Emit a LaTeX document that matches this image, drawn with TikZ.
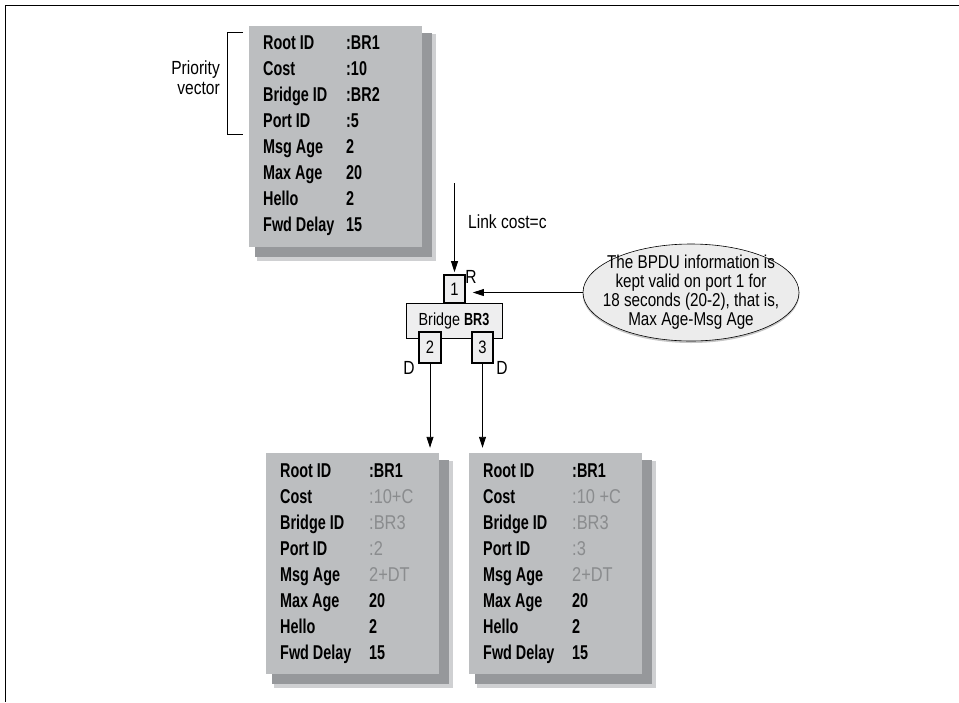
\documentclass[tikz,border=0pt]{standalone}
\usepackage{fontspec}
\setmainfont{Liberation Sans}[UprightFeatures={FakeStretch=0.82}, BoldFeatures={FakeStretch=0.72}]
\usetikzlibrary{arrows.meta,shapes.geometric,backgrounds}
\definecolor{boxgray}{HTML}{BCBEC0}
\definecolor{shadowdark}{HTML}{96989B}
\definecolor{shadowlight}{HTML}{CFD0D2}
\definecolor{valgray}{HTML}{8A8C8E}
\definecolor{lightfill}{HTML}{EEEEEF}
\definecolor{notefill}{HTML}{ECECEC}
\newcommand\gv[1]{\textcolor{valgray}{\mdseries #1}}
\begin{document}
\begin{tikzpicture}[x=1pt,y=-1pt,
  font=\fontsize{19}{20}\selectfont,
  bpdubox/.style={fill=boxgray, minimum width=173pt, minimum height=221pt, inner sep=0pt},
  lab/.style={anchor=base west, inner sep=0pt, font=\bfseries\fontsize{20}{20}\selectfont},
  txt/.style={inner sep=0pt, font=\fontsize{19}{20}\selectfont},
  port/.style={draw, line width=1.8pt, fill=lightfill, inner sep=0pt, font=\fontsize{18}{20}\selectfont},
  arr/.style={-{Triangle[length=11pt,width=7pt]}, line width=0.9pt}]
\useasboundingbox (0,0) rectangle (959,702);
% frame
\draw[line width=1pt] (959,5) -- (5,5) -- (5,702);

% BPDU boxes
\node[bpdubox] (top) at (335.5,136.5) {};
\node[bpdubox] (bl) at (352.5,563.5) {};
\node[bpdubox] (br) at (555.5,563.5) {};
\begin{scope}[on background layer]
  \foreach \b in {top,bl,br}{
    \fill[shadowlight] ([shift={(8,8)}]\b.north west) rectangle ([shift={(14,14)}]\b.south east);
    \fill[shadowdark] ([shift={(6,7)}]\b.north west) rectangle ([shift={(10,10)}]\b.south east);
  }
\end{scope}

% top box text
\foreach \l/\v [count=\i from 0] in {Root ID/{:BR1}, Cost/{:10}, Bridge ID/{:BR2}, Port ID/{:5}, Msg Age/{2}, Max Age/{20}, Hello/{2}, Fwd Delay/{15}}{
  \node[lab] (tl\i) at (263,{49.5+26*\i}) {\l};
  \node[lab] (tv\i) at (346,{49.5+26*\i}) {\v};
}
% bottom left text
\foreach \l/\v [count=\i from 0] in {Root ID/{:BR1}, Cost/{\gv{:10+C}}, Bridge ID/{\gv{:BR3}}, Port ID/{\gv{:2}}, Msg Age/{\gv{2+DT}}, Max Age/{20}, Hello/{2}, Fwd Delay/{15}}{
  \node[lab] (ll\i) at (280,{477.5+26*\i}) {\l};
  \node[lab] (lv\i) at (369,{477.5+26*\i}) {\v};
}
% bottom right text
\foreach \l/\v [count=\i from 0] in {Root ID/{:BR1}, Cost/{\gv{:10 +C}}, Bridge ID/{\gv{:BR3}}, Port ID/{\gv{:3}}, Msg Age/{\gv{2+DT}}, Max Age/{20}, Hello/{2}, Fwd Delay/{15}}{
  \node[lab] (rl\i) at (483,{477.5+26*\i}) {\l};
  \node[lab] (rv\i) at (572,{477.5+26*\i}) {\v};
}

% priority vector bracket
\coordinate (bt) at (243,32);
\coordinate (bb) at (243,134);
\draw[line width=0.8pt] (bt) -- (227,32) -- (227,134) -- (bb);
\node[txt, anchor=east, align=right] (pv) at (220,78) {Priority\\vector};

% bridge
\node[draw, line width=0.8pt, fill=lightfill, minimum width=96pt, minimum height=35pt, inner sep=0pt, font=\fontsize{17.5}{20}\selectfont] (bridge) at (454,320.5) {Bridge \textbf{BR3}};
\node[port, minimum width=21pt, minimum height=28pt] (p1) at (454.5,289) {1};
\node[port, minimum width=22pt, minimum height=31pt] (p2) at (430,347.5) {2};
\node[port, minimum width=21pt, minimum height=31pt] (p3) at (482.5,347.5) {3};
\node[txt] (rlab) at (471,277) {R};
\node[txt] (d2lab) at (409,368) {D};
\node[txt] (d3lab) at (502,368) {D};

% link
\coordinate (linktop) at (454.5,183);
\draw[arr, shorten >=2pt] (linktop) -- (p1.north);
\node[txt, anchor=west] (link) at (468,222) {Link cost=c};

% note ellipse
\fill[gray!45] (691,294) ellipse (108.5pt and 49pt);
\node[draw, line width=0.6pt, ellipse, fill=notefill, minimum width=216pt, minimum height=97pt, inner sep=0pt] (note) at (691,292.5) {};
\node[txt, align=center, font=\fontsize{18.6}{19}\selectfont] (notetext) at (691,292.5) {The BPDU information is\\kept valid on port 1 for\\18 seconds (20-2), that is,\\Max Age-Msg Age};
\draw[arr, shorten >=7pt] (note.west) -- (note.west -| p1.east);

% down arrows
\draw[arr, shorten >=5pt] (p2.south) -- (p2.south |- bl.north);
\draw[arr, shorten >=5pt] (p3.south) -- (p3.south |- br.north);
\end{tikzpicture}
\end{document}
